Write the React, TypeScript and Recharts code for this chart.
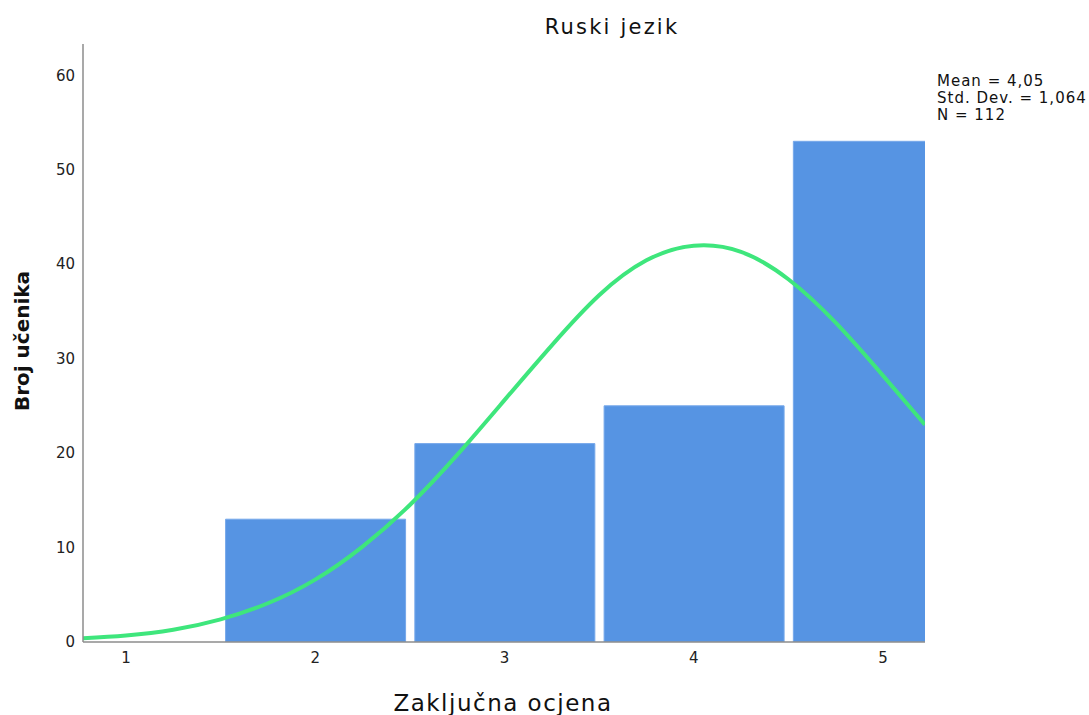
import React from "react";
import { ComposedChart, Bar, Line, XAxis, YAxis } from "recharts";

// Histogram bins (grade) and counts
const grades = [1, 2, 3, 4, 5];
const counts = [0, 13, 21, 25, 53];

// Normal curve points (x position, count)
const curveX = [0.773, 1.0, 1.25, 1.5, 1.75, 2.0, 2.25, 2.5, 2.75, 3.0, 3.25, 3.5, 3.75, 4.0, 4.25, 4.5, 4.75, 5.0, 5.222];
const curveY = [0.4, 0.7, 1.3, 2.4, 4.1, 6.6, 10.1, 14.5, 19.8, 25.6, 31.4, 36.7, 40.4, 41.95, 41.3, 38.4, 33.8, 28.2, 23.0];

const xTicks = [1, 2, 3, 4, 5];
const yTicks = [0, 10, 20, 30, 40, 50, 60];
const xDomain = [0.773, 5.222];

const statLines = ["Mean = 4,05", "Std. Dev. = 1,064", "N = 112"];

const title = "Ruski jezik";
const xTitle = "Zaključna ocjena";
const yTitle = "Broj učenika";

const barData = grades.map((g, i) => ({ x: g, count: counts[i] }));
const curveData = curveX.map((x, i) => ({ cx: x, curve: curveY[i] }));

const FONT = "'DejaVu Sans', Verdana, sans-serif";

export default function App() {
  return (
    <div style={{ position: "absolute", left: 0, top: 0, width: 1089, height: 715, background: "#fff", fontFamily: FONT }}>
      <ComposedChart
        width={1089}
        height={715}
        data={barData}
        margin={{ top: 44, right: 164, bottom: 43, left: 0 }}
      >
        <XAxis
          xAxisId="bars"
          dataKey="x"
          type="number"
          domain={xDomain}
          allowDataOverflow
          ticks={xTicks}
          tickLine={false}
          height={30}
          axisLine={{ stroke: "#8c8c8c", strokeWidth: 1.5 }}
          tick={{ fill: "#222", fontSize: 15, fontFamily: FONT }}
          tickMargin={4}
        />
        <XAxis
          xAxisId="curve"
          dataKey="cx"
          type="number"
          domain={xDomain}
          allowDataOverflow
          hide
        />
        <YAxis
          type="number"
          domain={[0, 63.3]}
          allowDataOverflow
          ticks={yTicks}
          width={83}
          tickLine={false}
          axisLine={{ stroke: "#8c8c8c", strokeWidth: 1.5 }}
          tick={{ fill: "#222", fontSize: 15, fontFamily: FONT }}
        />
        <Bar
          xAxisId="bars"
          dataKey="count"
          barSize={180}
          fill="#5694e3"
          stroke="#76a8ea"
          strokeWidth={1}
          isAnimationActive={false}
        />
        <Line
          xAxisId="curve"
          data={curveData}
          dataKey="curve"
          type="natural"
          stroke="#3ee67c"
          strokeWidth={4}
          dot={false}
          activeDot={false}
          isAnimationActive={false}
        />
      </ComposedChart>
      <div style={{ position: "absolute", left: 462, top: 14, width: 300, textAlign: "center", fontSize: 21, letterSpacing: 2.2, color: "#111", lineHeight: "26px" }}>
        {title}
      </div>
      <div style={{ position: "absolute", left: 353, top: 689, width: 300, textAlign: "center", fontSize: 23, letterSpacing: 1.5, color: "#111", lineHeight: "28px" }}>
        {xTitle}
      </div>
      <div
        style={{
          position: "absolute",
          left: 22,
          top: 341,
          transform: "translate(-50%, -50%) rotate(-90deg)",
          whiteSpace: "nowrap",
          fontSize: 20,
          fontWeight: "bold",
          color: "#111",
        }}
      >
        {yTitle}
      </div>
      <div style={{ position: "absolute", left: 937, top: 73, fontSize: 15, letterSpacing: 1, lineHeight: "17px", color: "#111" }}>
        {statLines.map((s) => (
          <div key={s} style={{ whiteSpace: "nowrap" }}>{s}</div>
        ))}
      </div>
    </div>
  );
}
